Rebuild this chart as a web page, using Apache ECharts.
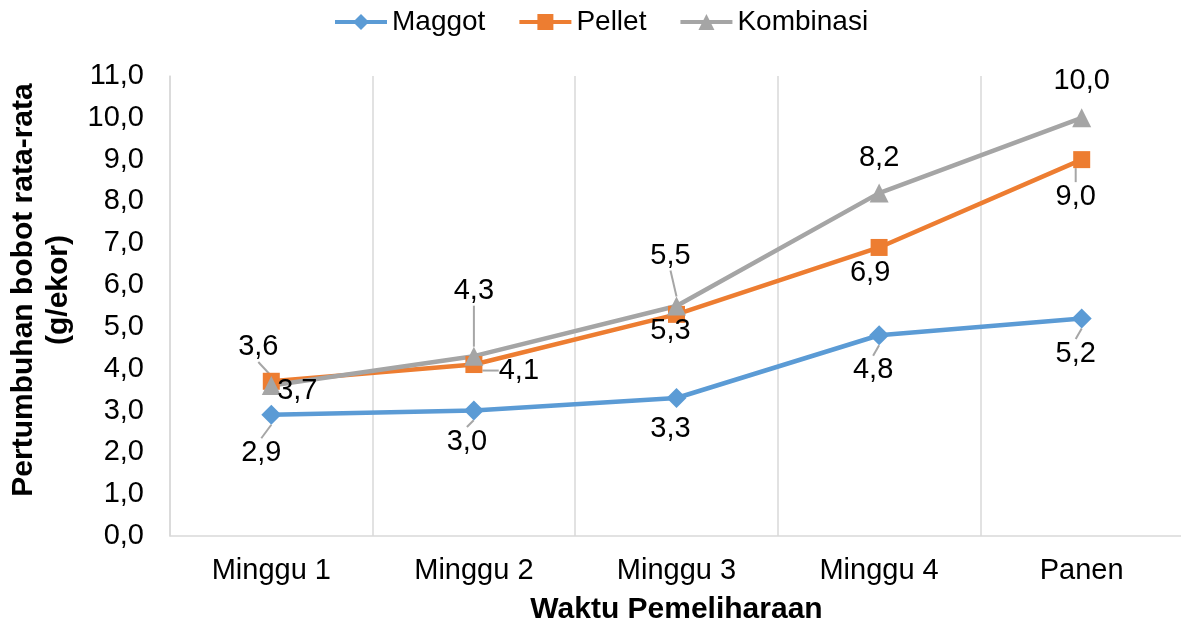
<!DOCTYPE html>
<html>
<head>
<meta charset="utf-8">
<script src="https://cdn.jsdelivr.net/npm/echarts@6/dist/echarts.min.js"></script>
<style>
  html, body { margin: 0; padding: 0; background: #fff; }
  #chart { width: 1181px; height: 625px; }
</style>
</head>
<body>
<div id="chart"></div>
<script>
const categories = ['Minggu 1', 'Minggu 2', 'Minggu 3', 'Minggu 4', 'Panen']
const maggot = [2.9, 3.0, 3.3, 4.8, 5.2]
const pellet = [3.7, 4.1, 5.3, 6.9, 9.0]
const kombinasi = [3.6, 4.3, 5.5, 8.2, 10.0]

// label placement (Excel-style, moved away from the point) and leader-line flags
const labelOffsets = [
  [[-10, 38], [-7, 31], [-6, 31], [-6, 35], [-6, 35]],
  [[26, 10], [45, 6], [-6, 17], [-9, 26], [-6, 37]],
  [[-13, -38], [0, -65], [-6, -50], [0, -35], [0, -37]]
]
const leaders = [
  [1, 1, 0, 1, 1],
  [0, 1, 0, 0, 1],
  [1, 1, 1, 0, 0]
]

const font = 'Liberation Sans, Arial, sans-serif'
const fmt = v => Number(v).toFixed(1).replace('.', ',')

const chart = echarts.init(document.getElementById('chart'))

function makeSeries (name, values, idx, color, symbol, size) {
  return {
    name: name,
    type: 'line',
    data: values.map((v, i) => ({
      value: v,
      labelLine: { show: leaders[idx][i] === 1 }
    })),
    symbol: symbol,
    symbolSize: size,
    lineStyle: { color: color, width: 4.5 },
    itemStyle: { color: color },
    label: {
      show: true,
      position: 'inside',
      formatter: p => fmt(p.value),
      color: '#000',
      fontSize: 29,
      fontFamily: font
    },
    labelLine: {
      show: true,
      length2: 0,
      lineStyle: { color: '#a6a6a6', width: 2 }
    },
    labelLayout: p => ({
      dx: labelOffsets[idx][p.dataIndex][0],
      dy: labelOffsets[idx][p.dataIndex][1]
    }),
    animation: false
  }
}

const option = {
  backgroundColor: '#fff',
  textStyle: { fontFamily: font },
  legend: {
    top: 3,
    left: 328,
    itemWidth: 52,
    itemHeight: 20,
    itemGap: 32,
    lineStyle: { width: 4 },
    textStyle: { fontSize: 28, color: '#000', fontFamily: font }
  },
  grid: { left: 170, top: 76, width: 1013, bottom: 89, outerBoundsMode: 'none', containLabel: false },
  xAxis: {
    type: 'category',
    data: categories,
    boundaryGap: true,
    name: 'Waktu Pemeliharaan',
    nameLocation: 'middle',
    nameGap: 59,
    nameTextStyle: { fontSize: 30, fontWeight: 'bold', color: '#000', fontFamily: font },
    axisLine: { lineStyle: { color: '#d9d9d9', width: 1.5 } },
    axisTick: { show: false },
    axisLabel: { fontSize: 29, color: '#000', margin: 20, fontFamily: font },
    splitLine: { show: true, lineStyle: { color: '#d9d9d9', width: 1.5 } }
  },
  yAxis: {
    type: 'value',
    min: 0,
    max: 11,
    interval: 1,
    name: 'Pertumbuhan bobot rata-rata\n(g/ekor)',
    nameLocation: 'middle',
    nameRotate: 90,
    nameGap: 88,
    nameTextStyle: { fontSize: 30, fontWeight: 'bold', color: '#000', lineHeight: 35, padding: [0, 0, 0, 32], fontFamily: font },
    axisLine: { show: true, lineStyle: { color: '#d9d9d9', width: 1.5 } },
    axisTick: { show: false },
    axisLabel: { fontSize: 29, color: '#000', margin: 26, formatter: v => fmt(v), fontFamily: font },
    splitLine: { show: false }
  },
  series: [
    makeSeries('Maggot', maggot, 0, '#5b9bd5', 'diamond', 20),
    makeSeries('Pellet', pellet, 1, '#ed7d31', 'rect', 17),
    makeSeries('Kombinasi', kombinasi, 2, '#a5a5a5', 'triangle', 19)
  ]
}

chart.setOption(option)
</script>
</body>
</html>
